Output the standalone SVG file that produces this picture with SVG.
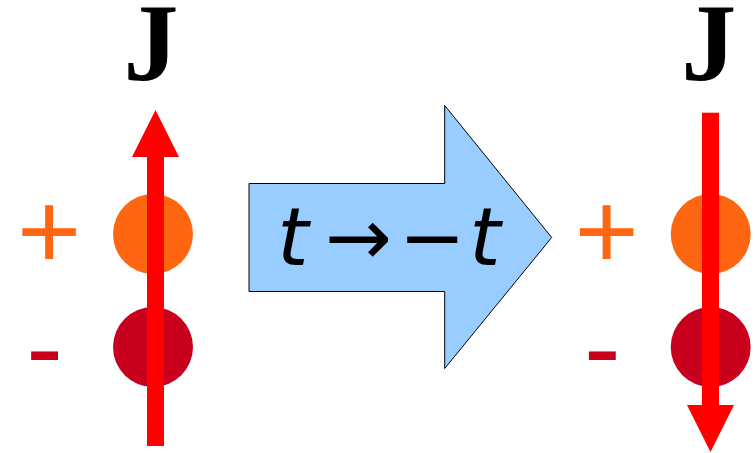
<svg xmlns="http://www.w3.org/2000/svg" width="755" height="453" viewBox="0 0 755 453">
<style>
.pos{fill:#ff6611}
.neg{fill:#c8001e}
.sign{font-family:"Liberation Sans",Arial,sans-serif;font-size:110px;text-anchor:middle}
.J{font-family:"Liberation Serif","Times New Roman",serif;font-weight:bold;font-size:110px;text-anchor:middle;fill:#000}
.cur{fill:#ff0000}
.math{font-family:"DejaVu Sans",sans-serif;font-size:80px;fill:#000;text-anchor:middle}
</style>
<rect width="755" height="453" fill="#fff"/>
<g id="left">
  <text class="J" x="151" y="80">J</text>
  <text class="sign pos" x="49" y="269">+</text>
  <text class="sign neg" x="44.5" y="385">-</text>
  <circle class="pos" cx="153" cy="234" r="40"/>
  <circle class="neg" cx="153" cy="347" r="40"/>
  <rect class="cur" x="147" y="156" width="17" height="290"/>
  <polygon class="cur" points="155.5,110 179,157 132,157"/>
</g>
<g id="transform">
  <polygon points="249,183.5 444.7,183.5 444.7,105.5 551.7,237.5 444.7,368.5 444.7,291.5 249,291.5" fill="#99ccff" stroke="#000" stroke-width="1"/>
  <text class="math" x="293" y="265" font-style="italic">t</text>
  <text class="math" x="358.5" y="265">→</text>
  <text class="math" x="432" y="265">−</text>
  <text class="math" x="485" y="265" font-style="italic">t</text>
</g>
<g id="right">
  <text class="J" x="708.7" y="80">J</text>
  <text class="sign pos" x="606.7" y="269">+</text>
  <text class="sign neg" x="602.3" y="385">-</text>
  <circle class="pos" cx="710.7" cy="234" r="40"/>
  <circle class="neg" cx="710.7" cy="347" r="40"/>
  <rect class="cur" x="702" y="112.7" width="17" height="294"/>
  <polygon class="cur" points="687,405 734,405 710.5,452"/>
</g>
</svg>
